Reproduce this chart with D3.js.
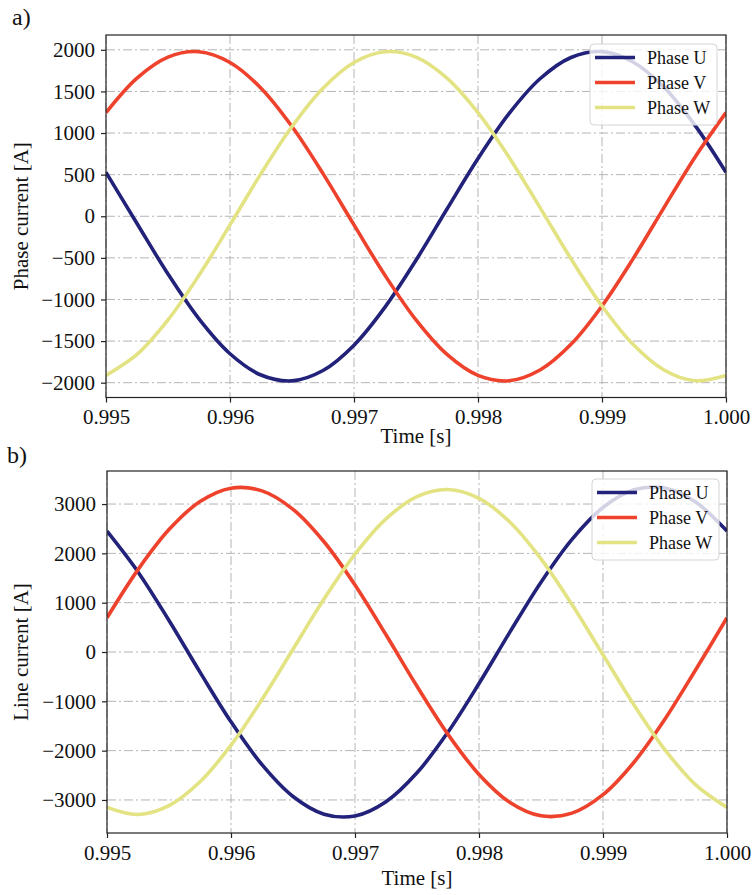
<!DOCTYPE html>
<html lang="en">
  <head>
    <meta charset="UTF-8">
    <title>Phase and line current</title>
    <style>
      body { margin: 0; background: #fff; }
      text { font-family: "Liberation Serif", "Times New Roman", serif; fill: #111; }
    </style>
  </head>
  <body>
    <div id="chart"></div>
    <script src="https://d3js.org/d3.v7.min.js"></script>
    <script>
      // sample times [s]
      let time = [0.995, 0.99525, 0.9955, 0.99575, 0.996, 0.99625, 0.9965, 0.99675, 0.997, 0.99725,
                  0.9975, 0.99775, 0.998, 0.99825, 0.9985, 0.99875, 0.999, 0.99925, 0.9995, 0.99975, 1.000];

      // a) phase current [A]
      let phaseU = [528, -87, -694, -1233, -1652, -1908, -1978, -1854, -1549, -1092,
                    -528, 87, 694, 1233, 1652, 1908, 1978, 1854, 1549, 1092, 528];
      let phaseV = [1246, 1661, 1913, 1977, 1848, 1539, 1078, 512, -104, -710,
                    -1246, -1661, -1913, -1977, -1848, -1539, -1078, -512, 104, 710, 1246];
      let phaseW = [-1913, -1661, -1246, -710, -104, 512, 1078, 1539, 1848, 1977,
                    1913, 1661, 1246, 710, 104, -512, -1078, -1539, -1848, -1977, -1913];

      // b) line current [A]
      let lineU = [2450, 1624, 639, -408, -1416, -2285, -2930, -3288, -3325, -3036,
                   -2450, -1624, -639, 408, 1416, 2285, 2930, 3288, 3325, 3036, 2450];
      let lineV = [694, 1670, 2482, 3051, 3322, 3267, 2893, 2235, 1359, 349,
                   -694, -1670, -2482, -3051, -3322, -3267, -2893, -2235, -1359, -349, 694];
      let lineW = [-3151, -3295, -3115, -2632, -1890, -963, 57, 1073, 1983, 2699,
                   3151, 3295, 3115, 2632, 1890, 963, -57, -1073, -1983, -2699, -3151];

      let seriesNames = ["Phase U", "Phase V", "Phase W"];
      let xTicks = [0.995, 0.996, 0.997, 0.998, 0.999, 1.000];
      let yTicksA = [-2000, -1500, -1000, -500, 0, 500, 1000, 1500, 2000];
      let yTicksB = [-3000, -2000, -1000, 0, 1000, 2000, 3000];

      let colors = ["#22227a", "#ee422c", "#e3e384"];

      let width = 752;
      let height = 895;
      let svg = d3.select("#chart").append("svg").attr("width", width).attr("height", height);

      drawPanel({
        tag: "a)", tagX: 12, tagY: 25,
        left: 106, right: 726, top: 35, bottom: 397.5,
        yDomain: [-2178, 2178], yTicks: yTicksA,
        yLabel: "Phase current [A]",
        series: [phaseU, phaseV, phaseW],
        xLabelY: 443, legendX: 590, legendY: 44
      });

      drawPanel({
        tag: "b)", tagX: 7, tagY: 463,
        left: 107, right: 727, top: 471, bottom: 833,
        yDomain: [-3670, 3670], yTicks: yTicksB,
        yLabel: "Line current [A]",
        series: [lineU, lineV, lineW],
        xLabelY: 885, legendX: 592, legendY: 479
      });

      function drawPanel(p) {
        let x = d3.scaleLinear().domain([0.995, 1.000]).range([p.left, p.right]);
        let y = d3.scaleLinear().domain(p.yDomain).range([p.bottom, p.top]);
        let g = svg.append("g");

        // grid
        g.selectAll(".gx").data(xTicks).enter().append("line")
          .attr("x1", d => x(d)).attr("x2", d => x(d))
          .attr("y1", p.top).attr("y2", p.bottom)
          .attr("stroke", "#b4b4b4").attr("stroke-width", 1)
          .attr("stroke-dasharray", "9,3,2,3");
        g.selectAll(".gy").data(p.yTicks).enter().append("line")
          .attr("x1", p.left).attr("x2", p.right)
          .attr("y1", d => y(d)).attr("y2", d => y(d))
          .attr("stroke", "#b4b4b4").attr("stroke-width", 1)
          .attr("stroke-dasharray", "9,3,2,3");

        // curves
        let line = d3.line()
          .x((d, i) => x(time[i]))
          .y(d => y(d))
          .curve(d3.curveCatmullRom.alpha(0.5));
        let clipId = "clip" + p.top;
        svg.append("clipPath").attr("id", clipId).append("rect")
          .attr("x", p.left).attr("y", p.top)
          .attr("width", p.right - p.left).attr("height", p.bottom - p.top);
        g.append("g").attr("clip-path", "url(#" + clipId + ")")
          .selectAll("path").data(p.series).enter().append("path")
          .attr("d", line)
          .attr("fill", "none")
          .attr("stroke", (d, i) => colors[i])
          .attr("stroke-width", 3.6)
          .attr("stroke-linejoin", "round");

        // frame
        g.append("rect")
          .attr("x", p.left).attr("y", p.top)
          .attr("width", p.right - p.left).attr("height", p.bottom - p.top)
          .attr("fill", "none").attr("stroke", "#222").attr("stroke-width", 1.2);

        // axes
        let xAxis = d3.axisBottom(x).tickValues(xTicks).tickFormat(d3.format(".3f"))
          .tickSizeInner(5).tickSizeOuter(0).tickPadding(7);
        let ax = g.append("g").attr("transform", "translate(0," + p.bottom + ")").call(xAxis);
        let yAxis = d3.axisLeft(y).tickValues(p.yTicks).tickFormat(d3.format("d"))
          .tickSizeInner(5).tickSizeOuter(0).tickPadding(6);
        let ay = g.append("g").attr("transform", "translate(" + p.left + ",0)").call(yAxis);
        [ax, ay].forEach(a => {
          a.select(".domain").remove();
          a.selectAll(".tick line").attr("stroke", "#222").attr("stroke-width", 1.2);
          a.selectAll(".tick text").attr("font-size", 21)
            .attr("font-family", "Liberation Serif, serif").attr("fill", "#111");
        });

        // labels
        g.append("text").attr("x", (p.left + p.right) / 2).attr("y", p.xLabelY)
          .attr("text-anchor", "middle").attr("font-size", 21).text("Time [s]");
        g.append("text")
          .attr("transform", "translate(28," + (p.top + p.bottom) / 2 + ") rotate(-90)")
          .attr("text-anchor", "middle").attr("font-size", 21).text(p.yLabel);
        g.append("text").attr("x", p.tagX).attr("y", p.tagY)
          .attr("font-size", 24).text(p.tag);

        // legend
        let lg = g.append("g").attr("transform", "translate(" + p.legendX + "," + p.legendY + ")");
        lg.append("rect").attr("width", 127).attr("height", 81).attr("rx", 4)
          .attr("fill", "#fff").attr("fill-opacity", 0.8)
          .attr("stroke", "#d4d4d4").attr("stroke-width", 1);
        seriesNames.forEach((name, i) => {
          let ly = 13.5 + i * 25;
          lg.append("line").attr("x1", 5).attr("x2", 45).attr("y1", ly).attr("y2", ly)
            .attr("stroke", colors[i]).attr("stroke-width", 3.6);
          lg.append("text").attr("x", 57).attr("y", ly).attr("dy", "0.34em")
            .attr("font-size", 18).text(name);
        });
      }
    </script>
  </body>
</html>
